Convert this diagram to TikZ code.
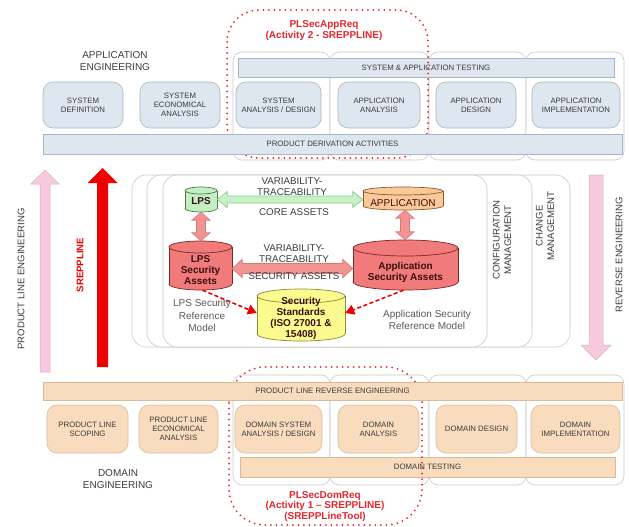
\documentclass[tikz,border=0pt]{standalone}
\usepackage{fontspec}
\setmainfont{Liberation Sans}
\usetikzlibrary{calc,arrows.meta}

\definecolor{colframe}{HTML}{C9C9C9}
\definecolor{bluefill}{HTML}{DEE6EF}
\definecolor{blueframe}{HTML}{AAB6C6}
\definecolor{peachfill}{HTML}{F9DBBD}
\definecolor{peachframe}{HTML}{D9BB9C}
\definecolor{labelgray}{HTML}{3C3C3C}
\definecolor{reddot}{HTML}{E4262B}
\definecolor{pinkfill}{HTML}{F6CADC}
\definecolor{pinkframe}{HTML}{E3A9C2}
\definecolor{srred}{HTML}{EE0000}
\definecolor{greenarrow}{HTML}{C8F1C8}
\definecolor{greenarrowframe}{HTML}{90CC90}
\definecolor{salmonarrow}{HTML}{F39494}
\definecolor{salmonframe}{HTML}{DD7777}
\definecolor{lpsfill}{HTML}{C4EFC4}
\definecolor{lpsframe}{HTML}{4A7A4A}
\definecolor{secfill}{HTML}{F17A7A}
\definecolor{secframe}{HTML}{7A2A2A}
\definecolor{appfill}{HTML}{F9C99A}
\definecolor{appframe}{HTML}{8A5A2A}
\definecolor{stdfill}{HTML}{FAFA8E}
\definecolor{stdframe}{HTML}{8A8A3A}
\definecolor{drumtext}{HTML}{3A1010}

% cylinder: #1 name, #2 left, #3 top, #4 right, #5 bottom, #6 style, #7 half height of the end caps
\newcommand{\drum}[7]{%
  \pgfmathsetmacro\dxc{(#2+#4)/2}%
  \pgfmathsetmacro\drx{(#4-#2)/2}%
  \pgfmathsetmacro\dtop{#3+#7}%
  \pgfmathsetmacro\dbot{#5-#7}%
  \path[#6] (\dxc,\dbot) ellipse [x radius=\drx, y radius=#7];
  \fill[#6, draw=none] (#2,\dtop) rectangle (#4,\dbot);
  \draw[#6, fill=none] (#2,\dtop) -- (#2,\dbot) (#4,\dtop) -- (#4,\dbot);
  \path[#6] (\dxc,\dtop) ellipse [x radius=\drx, y radius=#7];
  \node[inner sep=0pt, minimum width={(#4-#2)*1pt}, minimum height={(#5-#3)*1pt}] (#1) at (\dxc,{(#3+#5)/2}) {};
}

% horizontal fat double arrow: #1 style, #2 from, #3 to, #4 head length, #5 head half width, #6 shaft half width
\newcommand{\hfat}[6]{%
  \path[#1] let \p1=(#2), \p2=(#3) in
    (\x1,\y1) -- ({\x1+#4},{\y1+#5}) -- ({\x1+#4},{\y1+#6}) -- ({\x2-#4},{\y1+#6})
    -- ({\x2-#4},{\y1+#5}) -- (\x2,\y1) -- ({\x2-#4},{\y1-#5}) -- ({\x2-#4},{\y1-#6})
    -- ({\x1+#4},{\y1-#6}) -- ({\x1+#4},{\y1-#5}) -- cycle;
}
% vertical fat double arrow, from upper to lower end
\newcommand{\vfat}[6]{%
  \path[#1] let \p1=(#2), \p2=(#3) in
    (\x1,\y1) -- ({\x1+#5},{\y1-#4}) -- ({\x1+#6},{\y1-#4}) -- ({\x1+#6},{\y2+#4})
    -- ({\x1+#5},{\y2+#4}) -- (\x1,\y2) -- ({\x1-#5},{\y2+#4}) -- ({\x1-#6},{\y2+#4})
    -- ({\x1-#6},{\y1-#4}) -- ({\x1-#5},{\y1-#4}) -- cycle;
}

\begin{document}
\begin{tikzpicture}[x=1pt,y=-1pt,
  colbox/.style={draw=colframe,fill=white,rounded corners=9pt,line width=0.6pt},
  midbox/.style={draw=colframe,fill=white,rounded corners=14pt,line width=0.6pt},
  small/.style={font=\fontsize{7.8}{9.3}\selectfont, text=labelgray, align=center},
  bluebox/.style={small,draw=blueframe,fill=bluefill,rounded corners=10pt,line width=0.6pt,inner sep=1pt},
  bluebar/.style={small,draw=blueframe,fill=bluefill,line width=0.6pt,inner sep=1pt},
  peachbox/.style={small,draw=peachframe,fill=peachfill,rounded corners=10pt,line width=0.6pt,inner sep=1pt},
  peachbar/.style={small,draw=peachframe,fill=peachfill,line width=0.6pt,inner sep=1pt},
  section/.style={font=\fontsize{10}{12}\selectfont, text=labelgray, align=center},
  midlabel/.style={font=\fontsize{9.8}{11.5}\selectfont, text=labelgray, align=center},
  refmodel/.style={font=\fontsize{10}{12.5}\selectfont, text=black!65, align=center},
  redtitle/.style={font=\bfseries\fontsize{10}{11}\selectfont, text=reddot, align=center},
  reddots/.style={draw=reddot, line width=2pt, line cap=round, dash pattern=on 0pt off 5.5pt},
  drumlabel/.style={font=\bfseries\fontsize{10}{11}\selectfont, text=drumtext, align=center},
  lpsdrum/.style={draw=lpsframe, fill=lpsfill, line width=0.7pt},
  secdrum/.style={draw=secframe, fill=secfill, line width=0.7pt},
  appdrum/.style={draw=appframe, fill=appfill, line width=0.7pt},
  stddrum/.style={draw=stdframe, fill=stdfill, line width=0.7pt},
  greenfat/.style={fill=greenarrow, draw=greenarrowframe, line width=0.7pt},
  salmonfat/.style={fill=salmonarrow, draw=salmonframe, line width=0.7pt},
  pinkbig/.style={fill=pinkfill, draw=pinkframe, line width=0.5pt},
  redbig/.style={fill=srred},
  reddash/.style={draw=srred, line width=1.6pt, dash pattern=on 4pt off 2.5pt, -{Triangle[length=9pt,width=10pt]}},
  sidelabel/.style={font=\fontsize{9.6}{11.5}\selectfont, text=labelgray, align=center, rotate=90}
]
\useasboundingbox (0,0) rectangle (629,527);

% ---------------- application engineering ----------------
\draw[colbox] (233,52) rectangle (330,160);
\draw[colbox] (330,52) rectangle (429,160);
\draw[colbox] (429,52) rectangle (526,160);
\draw[colbox] (526,52) rectangle (624,160);

\node[section] (appeng) at (115,61) {APPLICATION\\ENGINEERING};

\node[bluebar, minimum width=376pt, minimum height=19pt] (sattest) at (426,67.5) {SYSTEM \& APPLICATION TESTING};

\node[bluebox, minimum width=80pt, minimum height=46pt] (sysdef) at (83,105) {SYSTEM\\DEFINITION};
\node[bluebox, minimum width=80pt, minimum height=46pt] (syseco) at (180,105) {SYSTEM\\ECONOMICAL\\ANALYSIS};
\node[bluebox, minimum width=85pt, minimum height=46pt] (sysad) at (278.5,105) {SYSTEM\\ANALYSIS / DESIGN};
\node[bluebox, minimum width=82pt, minimum height=46pt] (appan) at (379,105) {APPLICATION\\ANALYSIS};
\node[bluebox, minimum width=80pt, minimum height=46pt] (appdes) at (476,105) {APPLICATION\\DESIGN};
\node[bluebox, minimum width=88pt, minimum height=46pt] (appimpl) at (576,105) {APPLICATION\\IMPLEMENTATION};

\draw[reddots, rounded corners=32pt] (227,10) rectangle (428,158);
\node[redtitle] (appreq) at (324,30.5) {PLSecAppReq\\(Activity 2 - SREPPLINE)};

\node[bluebar, minimum width=579pt, minimum height=20pt] (derive) at (332.5,144) {PRODUCT DERIVATION ACTIVITIES};

% ---------------- side arrows ----------------
\path[pinkbig] (40,372) -- (40,184) -- (31,184) -- (45,170) -- (59,184) -- (50,184) -- (50,372) -- cycle;
\node[sidelabel] (ple) at (21,279) {PRODUCT LINE ENGINEERING};

\path[redbig] (97,367) -- (97,183) -- (87.5,183) -- (102.5,168) -- (117.5,183) -- (108,183) -- (108,367) -- cycle;
\node[sidelabel, font=\bfseries\fontsize{9.6}{11.5}\selectfont, text=srred] (srep) at (80,265) {SREPPLINE};

\path[pinkbig] (589,175) -- (603,175) -- (603,345) -- (611,345) -- (596,360) -- (581,345) -- (589,345) -- cycle;
\node[sidelabel] (reveng) at (619,255) {REVERSE ENGINEERING};

% ---------------- core and security assets ----------------
\draw[midbox] (132,175) rectangle (570,347);
\draw[midbox] (147,175) rectangle (532,347);
\draw[midbox] (163,175) rectangle (487,347);
\node[sidelabel] (confman) at (502,240) {CONFIGURATION\\MANAGEMENT};
\node[sidelabel] (chman) at (545,226) {CHANGE\\MANAGEMENT};

\drum{lps}{185}{187}{217}{212}{lpsdrum}{3.5}
\node[drumlabel] (lpst) at (201,201.5) {LPS};
\drum{app}{363}{187}{443}{210}{appdrum}{4}
\node[drumlabel, font=\fontsize{10}{11}\selectfont] (appt) at (403,203) {APPLICATION};
\drum{lpssa}{169}{241}{232}{290}{secdrum}{6}
\node[drumlabel] (lpssat) at (200.5,270) {LPS\\Security\\Assets};
\drum{appsa}{353}{240}{458}{290}{secdrum}{8}
\node[drumlabel] (appsat) at (405.5,272) {Application\\Security Assets};
\drum{std}{257}{289}{345}{341}{stddrum}{7}
\node[drumlabel] (stdt) at (301,318.5) {Security\\Standards\\(ISO 27001 \&\\15408)};

\hfat{greenfat}{lps.east}{app.west}{10pt}{8pt}{3.5pt}
\hfat{salmonfat}{[yshift=-3pt]lpssa.east}{[yshift=-3pt]appsa.west}{10pt}{9pt}{5pt}
\vfat{salmonfat}{lps.south}{lpssa.north}{8pt}{9pt}{4.5pt}
\vfat{salmonfat}{[xshift=2pt]app.south}{[xshift=2pt]appsa.north}{8pt}{9pt}{4.5pt}

\node[midlabel] (vt1) at (292,186.5) {VARIABILITY-\\TRACEABILITY};
\node[midlabel] (core) at (294,212.5) {CORE ASSETS};
\node[midlabel] (vt2) at (294,253.5) {VARIABILITY-\\TRACEABILITY};
\node[midlabel] (secas) at (294,276) {SECURITY ASSETS};

\draw[reddash] ([xshift=2pt]lpssa.south) -- ([yshift=2pt]std.west);
\draw[reddash] ([xshift=-2pt]appsa.south) -- ([yshift=2pt]std.east);

\node[refmodel] (lpsref) at (202,315.5) {LPS Security\\Reference\\Model};
\node[refmodel] (appref) at (427,320) {Application Security\\Reference Model};

% ---------------- domain engineering ----------------
\draw[colbox] (233,375) rectangle (330,485);
\draw[colbox] (330,375) rectangle (429,485);
\draw[colbox] (429,375) rectangle (526,485);
\draw[colbox] (526,375) rectangle (624,485);

\node[peachbox, minimum width=81pt, minimum height=48pt] (plscope) at (87.5,429) {PRODUCT LINE\\SCOPING};
\node[peachbox, minimum width=79pt, minimum height=48pt] (pleco) at (178.5,429) {PRODUCT LINE\\ECONOMICAL\\ANALYSIS};
\node[peachbox, minimum width=87pt, minimum height=48pt] (dsad) at (278.5,429) {DOMAIN SYSTEM\\ANALYSIS / DESIGN};
\node[peachbox, minimum width=81pt, minimum height=48pt] (dan) at (378.5,429) {DOMAIN\\ANALYSIS};
\node[peachbox, minimum width=81pt, minimum height=48pt] (ddes) at (476.5,429) {DOMAIN DESIGN};
\node[peachbox, minimum width=89pt, minimum height=48pt] (dimpl) at (575.5,429) {DOMAIN\\IMPLEMENTATION};

\node[peachbar, minimum width=375pt, minimum height=20pt] (dtest) at (427.5,467) {DOMAIN TESTING};

\draw[reddots, rounded corners=36pt] (229,367) rectangle (422,525);
\node[redtitle, font=\bfseries\fontsize{10}{10.7}\selectfont] (domreq) at (325,506.5) {PLSecDomReq\\(Activity 1 -- SREPPLINE)\\(SREPPLineTool)};

\node[peachbar, minimum width=579pt, minimum height=18pt] (plre) at (332.5,391) {PRODUCT LINE REVERSE ENGINEERING};

\node[section] (domeng) at (118,479.5) {DOMAIN\\ENGINEERING};

\end{tikzpicture}
\end{document}
